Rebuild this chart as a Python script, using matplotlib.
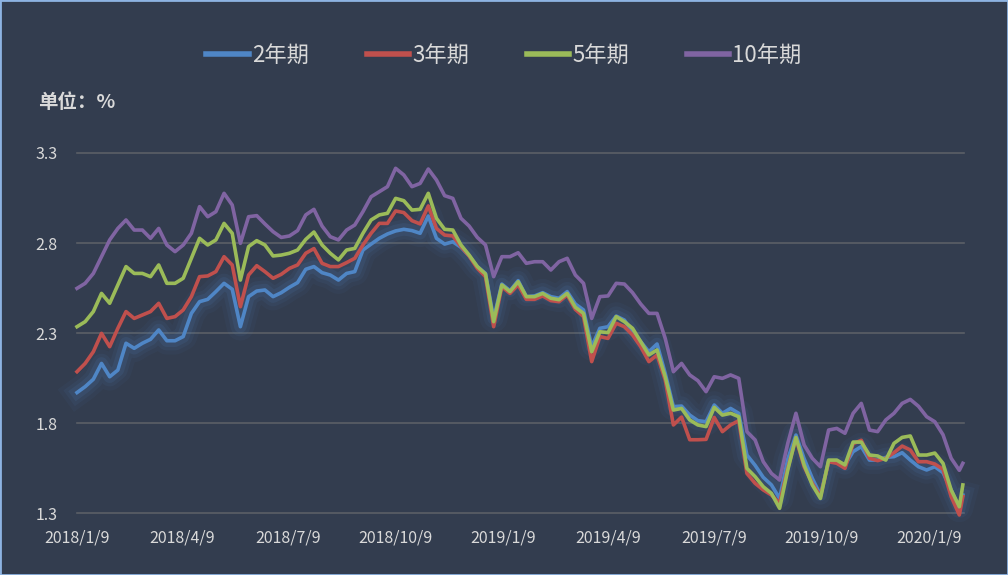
import matplotlib
matplotlib.use("Agg")
import matplotlib.pyplot as plt
import matplotlib.dates as mdates
import matplotlib.patheffects as pe
from matplotlib.patches import Rectangle
import numpy as np
import pandas as pd

plt.rcParams['font.family'] = ['Noto Sans CJK SC', 'DejaVu Sans']

# ---- data (weekly samples, %) ----
start_date = "2018-01-09"
n_weekly = 109
last_date = "2020-02-07"

y2 = [1.969, 2.002, 2.043, 2.131, 2.057, 2.094, 2.243, 2.215, 2.243, 2.265, 2.317, 2.257, 2.257, 2.280, 2.409, 2.474, 2.487, 2.530, 2.576, 2.543, 2.335, 2.502,
      2.533, 2.539, 2.502, 2.524, 2.554, 2.580, 2.654, 2.669, 2.635, 2.622, 2.594, 2.631, 2.641, 2.761, 2.794, 2.826, 2.850, 2.867, 2.876, 2.869, 2.854,
      2.950, 2.826, 2.794, 2.807, 2.776, 2.728, 2.669, 2.631, 2.381, 2.572, 2.535, 2.591, 2.502, 2.506, 2.524, 2.502, 2.493, 2.530, 2.461, 2.428, 2.224, 2.326,
      2.335, 2.394, 2.372, 2.307, 2.252, 2.196, 2.239, 2.076, 1.891, 1.894, 1.844, 1.813, 1.807, 1.900, 1.854, 1.881, 1.854, 1.622, 1.565, 1.498, 1.456,
      1.381, 1.600, 1.733, 1.602, 1.493, 1.400, 1.585, 1.585, 1.567, 1.641, 1.669, 1.594, 1.594, 1.609, 1.613, 1.635, 1.594, 1.557, 1.539, 1.557, 1.524, 1.428, 1.326, 1.400]

y3 = [2.085, 2.131, 2.196, 2.298, 2.224, 2.326, 2.419, 2.381, 2.400, 2.419, 2.465, 2.381, 2.391, 2.428, 2.502, 2.613, 2.617, 2.641, 2.724, 2.678, 2.446, 2.622,
      2.674, 2.641, 2.604, 2.626, 2.659, 2.678, 2.743, 2.769, 2.687, 2.669, 2.669, 2.691, 2.715, 2.789, 2.854, 2.909, 2.909, 2.978, 2.969, 2.924, 2.906,
      3.006, 2.881, 2.844, 2.839, 2.780, 2.728, 2.659, 2.613, 2.335, 2.557, 2.520, 2.567, 2.487, 2.487, 2.506, 2.480, 2.474, 2.511, 2.431, 2.391, 2.141, 2.280,
      2.270, 2.354, 2.335, 2.289, 2.224, 2.141, 2.178, 2.039, 1.789, 1.833, 1.707, 1.707, 1.709, 1.831, 1.752, 1.789, 1.813, 1.520, 1.465, 1.428, 1.400,
      1.354, 1.548, 1.715, 1.557, 1.465, 1.391, 1.585, 1.576, 1.548, 1.685, 1.704, 1.604, 1.591, 1.604, 1.635, 1.672, 1.650, 1.585, 1.585, 1.572, 1.543, 1.391, 1.289, 1.391]

y5 = [2.335, 2.363, 2.419, 2.520, 2.465, 2.567, 2.669, 2.631, 2.631, 2.613, 2.678, 2.576, 2.576, 2.604, 2.715, 2.826, 2.789, 2.817, 2.909, 2.854, 2.594, 2.780,
      2.813, 2.789, 2.728, 2.733, 2.743, 2.761, 2.820, 2.861, 2.789, 2.743, 2.706, 2.761, 2.770, 2.854, 2.928, 2.956, 2.965, 3.048, 3.035, 2.983, 2.987,
      3.076, 2.937, 2.876, 2.872, 2.789, 2.733, 2.669, 2.628, 2.363, 2.567, 2.530, 2.585, 2.502, 2.502, 2.520, 2.493, 2.485, 2.520, 2.443, 2.409, 2.196, 2.307,
      2.302, 2.391, 2.363, 2.326, 2.252, 2.178, 2.206, 2.057, 1.872, 1.881, 1.817, 1.789, 1.780, 1.887, 1.844, 1.854, 1.835, 1.548, 1.502, 1.446, 1.409,
      1.326, 1.539, 1.720, 1.567, 1.456, 1.381, 1.594, 1.594, 1.567, 1.694, 1.694, 1.622, 1.617, 1.594, 1.687, 1.720, 1.728, 1.622, 1.622, 1.633, 1.576, 1.428, 1.335, 1.456]

y10 = [2.548, 2.576, 2.631, 2.724, 2.817, 2.881, 2.928, 2.872, 2.872, 2.826, 2.881, 2.789, 2.752, 2.789, 2.854, 3.002, 2.946, 2.974, 3.076, 3.011, 2.798, 2.946,
       2.952, 2.906, 2.863, 2.831, 2.839, 2.869, 2.956, 2.987, 2.894, 2.835, 2.817, 2.872, 2.900, 2.974, 3.057, 3.085, 3.113, 3.215, 3.178, 3.113, 3.131,
       3.211, 3.150, 3.063, 3.048, 2.937, 2.894, 2.831, 2.789, 2.613, 2.724, 2.724, 2.746, 2.687, 2.696, 2.696, 2.650, 2.696, 2.715, 2.622, 2.576, 2.381, 2.502,
       2.506, 2.576, 2.572, 2.524, 2.461, 2.409, 2.409, 2.270, 2.085, 2.131, 2.067, 2.035, 1.974, 2.057, 2.048, 2.067, 2.048, 1.752, 1.706, 1.585, 1.520,
       1.483, 1.687, 1.854, 1.678, 1.604, 1.557, 1.761, 1.770, 1.743, 1.854, 1.909, 1.761, 1.752, 1.817, 1.854, 1.909, 1.931, 1.893, 1.835, 1.807, 1.735, 1.604, 1.537, 1.576]

series_names = ["2年期", "3年期", "5年期", "10年期"]
series_colors = ["#4f86c6", "#c0504d", "#9bbb59", "#8064a2"]
tick_labels = ["2018/1/9", "2018/4/9", "2018/7/9", "2018/10/9", "2019/1/9",
               "2019/4/9", "2019/7/9", "2019/10/9", "2020/1/9"]
y_ticks = [1.3, 1.8, 2.3, 2.8, 3.3]

dates = list(pd.date_range(start_date, periods=n_weekly, freq="7D")) + [pd.Timestamp(last_date)]

BG = "#333d4f"
TXT = "#d9d9d9"

fig = plt.figure(figsize=(10.08, 5.75), dpi=100, facecolor=BG)
ax = fig.add_axes([77/1008, 1-513/575, (964-77)/1008, (513-153)/575])
ax.set_facecolor(BG)

all_series = [y2, y3, y5, y10]
for i, (vals, name, col) in enumerate(zip(all_series, series_names, series_colors)):
    if i == 0:
        effects = [pe.Stroke(linewidth=20, foreground="#4f86c6", alpha=0.05),
                   pe.Stroke(linewidth=14, foreground="#4f86c6", alpha=0.08),
                   pe.Stroke(linewidth=9, foreground="#4f86c6", alpha=0.12),
                   pe.Normal()]
    else:
        effects = [pe.Normal()]
    ax.plot(dates, vals, color=col, lw=2.6, label=name, zorder=3 + i,
            clip_on=False, solid_joinstyle="round", path_effects=effects)

ax.set_ylim(1.3, 3.3)
ax.set_xlim(pd.Timestamp("2018-01-09"), pd.Timestamp("2020-02-08"))
ax.set_yticks(y_ticks)
ax.set_yticklabels([f"{v:.1f}" for v in y_ticks])
ax.set_xticks([pd.Timestamp(t.replace("/", "-")) for t in tick_labels])
ax.set_xticklabels(tick_labels)
ax.tick_params(axis="both", length=0, colors=TXT, labelsize=11.5)
ax.tick_params(axis="y", pad=14)
ax.tick_params(axis="x", pad=12)
for s in ax.spines.values():
    s.set_visible(False)
ax.grid(axis="y", color="#5b5f66", lw=1.2, zorder=1)
ax.grid(axis="x", visible=False)
for gl in ax.get_ygridlines():
    gl.set_clip_on(False)

leg = fig.legend(loc="center", bbox_to_anchor=(0.5, 1-55/575), ncol=4, frameon=False,
                 fontsize=16, handlelength=1.9, handletextpad=0.15, columnspacing=2.6,
                 labelcolor=TXT)
for h in leg.get_lines():
    h.set_linewidth(4)
    h.set_path_effects([pe.Normal()])

fig.text(38/1008, 1-103/575, "单位：%", color=TXT, fontsize=14, fontweight="bold",
         ha="left", va="center")

fig.patches.append(Rectangle((0, 0), 1, 1, transform=fig.transFigure, fill=False,
                             edgecolor="#8db3e2", lw=2, zorder=10))

fig.savefig("out.png", dpi=100, facecolor=BG)
